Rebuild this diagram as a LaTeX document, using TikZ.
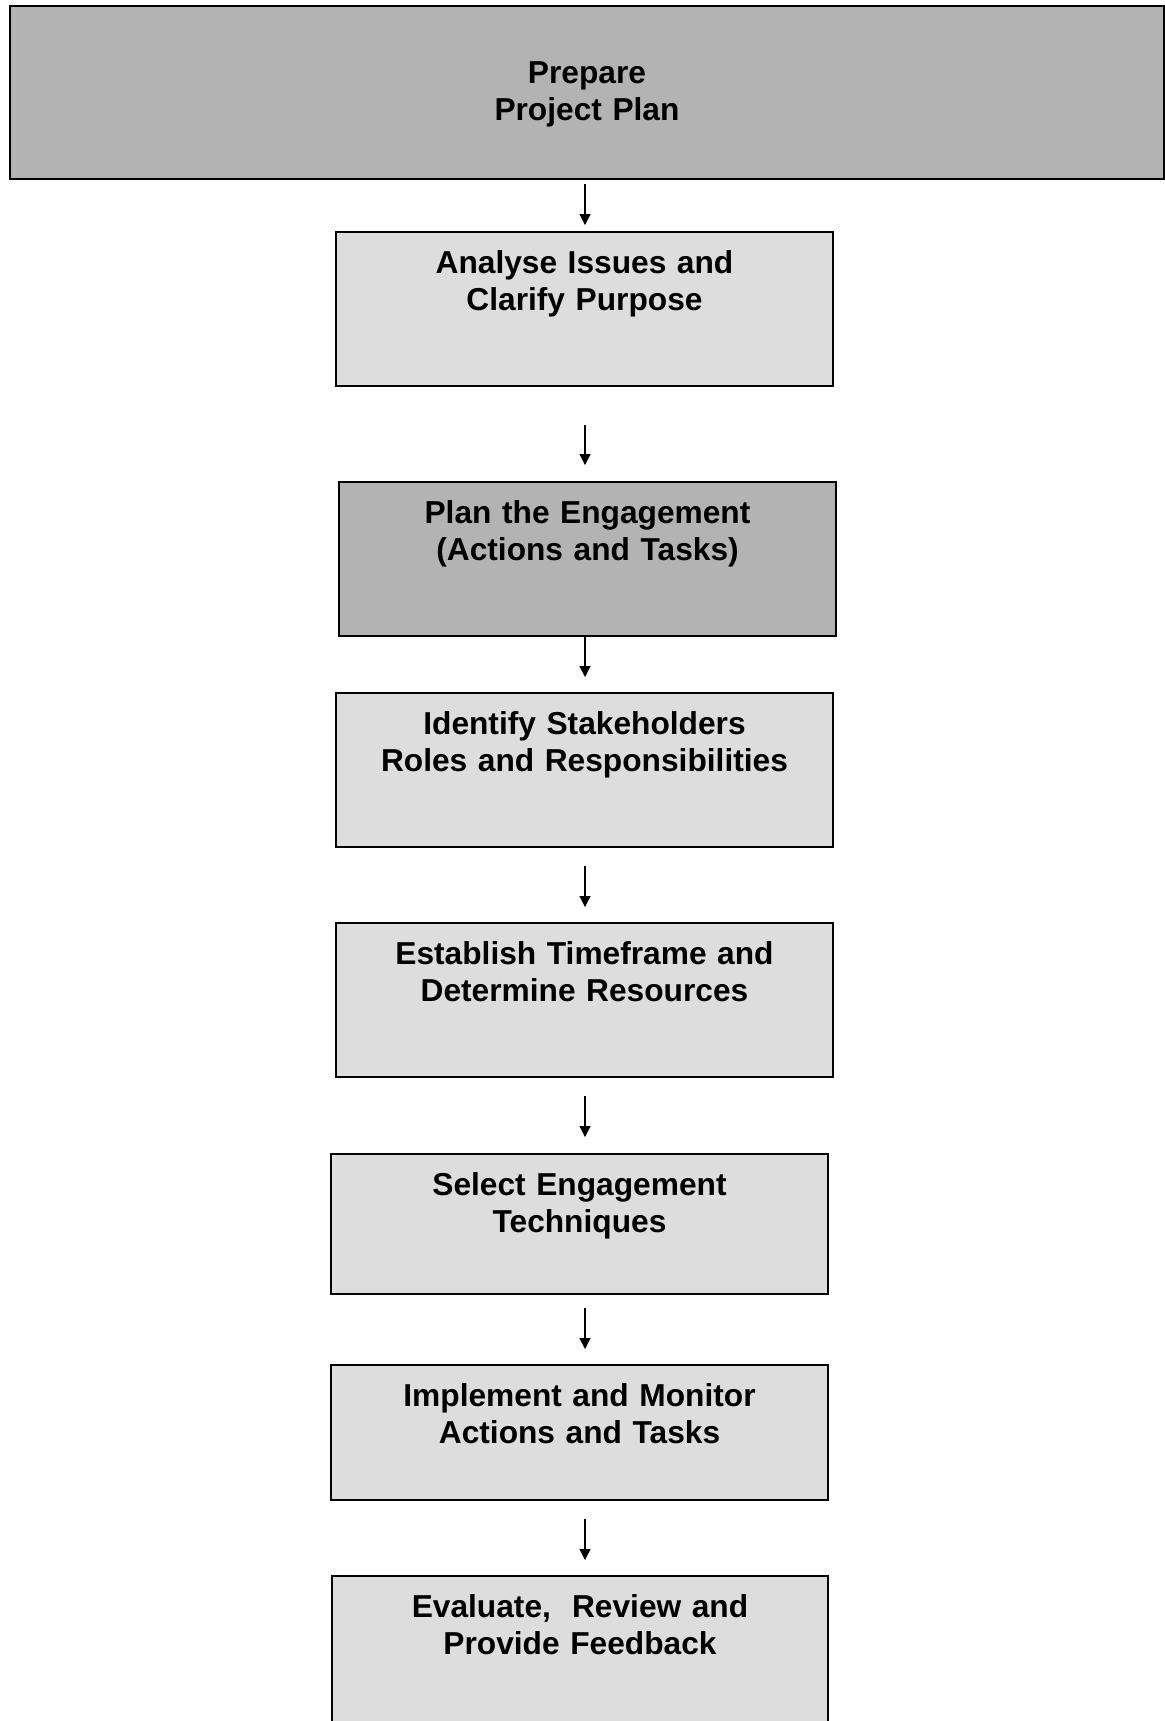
\documentclass[tikz,border=0pt]{standalone}
\usepackage{fontspec}
\setmainfont{Liberation Sans}
\usetikzlibrary{arrows.meta}
\definecolor{lightGrey}{HTML}{DDDDDD}
\definecolor{darkGrey}{HTML}{B3B3B3}

\begin{document}
\begin{tikzpicture}[x = 0.5pt, y = -0.5pt]
\tikzstyle{stepStyle} = [shape = rectangle, draw = black, line width = 1pt, inner sep = 0pt, anchor = north west, align = center, font = \fontsize{15.85pt}{18.5pt}\selectfont\bfseries, text height = 20.5pt, text depth = 56.5pt, text width = 248.5pt]
\tikzstyle{lightStyle} = [stepStyle, fill = lightGrey]
\tikzstyle{darkStyle} = [stepStyle, fill = darkGrey]
\tikzstyle{arrowStyle} = [line width = 0.6pt, -{Triangle[length = 5.5pt, width = 5.5pt]}]
\useasboundingbox (0,0) rectangle (1165,1721);
\clip (0,0) rectangle (1165,1721);
\node[darkStyle, text width = 577pt, text height = 38.5pt, text depth = 48pt] (prep) at (9,5) {Prepare\\Project Plan};
\node[lightStyle] (analyse) at (335,231) {Analyse Issues and\\Clarify Purpose};
\node[darkStyle] (engage) at (338,481) {Plan the Engagement\\(Actions and Tasks)};
\node[lightStyle] (stake) at (335,692) {Identify Stakeholders\\Roles and Responsibilities};
\node[lightStyle] (time) at (335,922) {Establish Timeframe and\\Determine Resources};
\node[lightStyle, text depth = 49.5pt] (select) at (330,1153) {Select Engagement\\Techniques};
\node[lightStyle, text depth = 47pt] (impl) at (330,1364) {Implement and Monitor\\Actions and Tasks};
\node[lightStyle, text width = 248pt] (eval) at (331,1575) {Evaluate,~ Review and\\Provide Feedback};
\coordinate (axis) at (585,0);
\draw[arrowStyle, shorten < = 2pt, shorten > = 3pt] (prep.south -| axis) -- (analyse.north -| axis);
\draw[arrowStyle, shorten < = 19pt, shorten > = 8pt] (analyse.south -| axis) -- (engage.north -| axis);
\draw[arrowStyle, shorten < = 0pt, shorten > = 7.5pt] (engage.south -| axis) -- (stake.north -| axis);
\draw[arrowStyle, shorten < = 9pt, shorten > = 7.5pt] (stake.south -| axis) -- (time.north -| axis);
\draw[arrowStyle, shorten < = 9pt, shorten > = 8pt] (time.south -| axis) -- (select.north -| axis);
\draw[arrowStyle, shorten < = 6.5pt, shorten > = 7.5pt] (select.south -| axis) -- (impl.north -| axis);
\draw[arrowStyle, shorten < = 9pt, shorten > = 7.5pt] (impl.south -| axis) -- (eval.north -| axis);
\end{tikzpicture}
\end{document}
